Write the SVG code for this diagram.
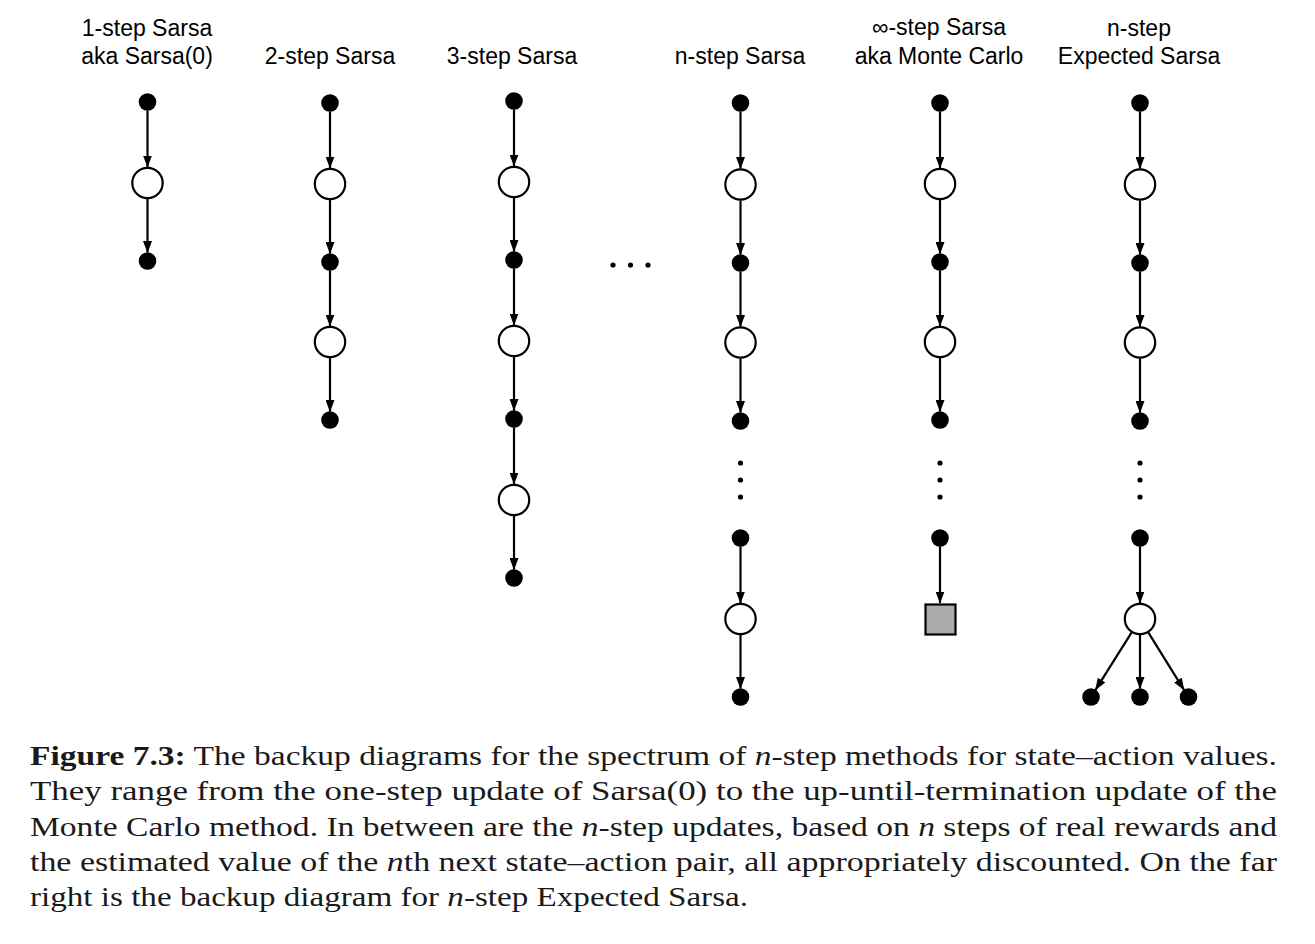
<svg xmlns="http://www.w3.org/2000/svg" width="1315" height="944" viewBox="0 0 1315 944">
<style>
.title{font-family:"Liberation Sans",Arial,Helvetica,sans-serif;font-size:23px;fill:#000;text-anchor:middle}
.cap{font-family:"Liberation Serif","Times New Roman",serif;font-size:27px;fill:#1a1a1a}
.b{font-weight:bold}
.i{font-style:italic}
.act{fill:#000}
.st{fill:#fff;stroke:#000;stroke-width:2.2}
.term{fill:#aaaaaa;stroke:#000;stroke-width:2.2}
.dot{fill:#000}
.conn line{stroke:#000;stroke-width:2.2;marker-end:url(#ah)}
</style>
<defs>
<marker id="ah" markerUnits="userSpaceOnUse" viewBox="0 0 12 9" markerWidth="12" markerHeight="9" refX="11.5" refY="4.5" orient="auto">
<path d="M0,0 L12,4.5 L0,9 z" fill="#000"/>
</marker>
</defs>
<rect width="1315" height="944" fill="#fff"/>

<g id="titles">
<text class="title" x="147" y="36">1-step Sarsa</text>
<text class="title" x="147" y="64">aka Sarsa(0)</text>
<text class="title" x="330" y="64">2-step Sarsa</text>
<text class="title" x="512" y="64">3-step Sarsa</text>
<text class="title" x="740" y="64">n-step Sarsa</text>
<text class="title" x="939" y="35">∞-step Sarsa</text>
<text class="title" x="939" y="64">aka Monte Carlo</text>
<text class="title" x="1139" y="36">n-step</text>
<text class="title" x="1139" y="64">Expected Sarsa</text>
</g>

<g id="connectors" class="conn">
<line x1="147.5" y1="110.5" x2="147.5" y2="167"/>
<line x1="147.5" y1="199" x2="147.5" y2="252.5"/>

<line x1="330" y1="111.5" x2="330" y2="168"/>
<line x1="330" y1="200" x2="330" y2="253.5"/>
<line x1="330" y1="270.5" x2="330" y2="326"/>
<line x1="330" y1="358" x2="330" y2="411.5"/>

<line x1="514" y1="109.5" x2="514" y2="166"/>
<line x1="514" y1="198" x2="514" y2="251.5"/>
<line x1="514" y1="268.5" x2="514" y2="325"/>
<line x1="514" y1="357" x2="514" y2="410.5"/>
<line x1="514" y1="427.5" x2="514" y2="484"/>
<line x1="514" y1="516" x2="514" y2="569.5"/>

<line x1="740.5" y1="111.5" x2="740.5" y2="168.5"/>
<line x1="740.5" y1="200.5" x2="740.5" y2="254.5"/>
<line x1="740.5" y1="271.5" x2="740.5" y2="326.5"/>
<line x1="740.5" y1="358.5" x2="740.5" y2="412.5"/>
<line x1="740.5" y1="546.5" x2="740.5" y2="603"/>
<line x1="740.5" y1="635" x2="740.5" y2="688.5"/>

<line x1="940" y1="111.5" x2="940" y2="168"/>
<line x1="940" y1="200" x2="940" y2="253.5"/>
<line x1="940" y1="270.5" x2="940" y2="326"/>
<line x1="940" y1="358" x2="940" y2="411.5"/>
<line x1="940" y1="546.5" x2="940" y2="603"/>

<line x1="1140" y1="111.5" x2="1140" y2="168.5"/>
<line x1="1140" y1="200.5" x2="1140" y2="254.5"/>
<line x1="1140" y1="271.5" x2="1140" y2="326.5"/>
<line x1="1140" y1="358.5" x2="1140" y2="412.5"/>
<line x1="1140" y1="546.5" x2="1140" y2="603"/>
<line x1="1131.5" y1="632.6" x2="1095.5" y2="689.8"/>
<line x1="1140" y1="635" x2="1140" y2="688.5"/>
<line x1="1148.4" y1="632.6" x2="1184" y2="689.8"/>
</g>

<g id="col-1step">
<g id="c1-a0"><circle class="act" cx="147.5" cy="102" r="8.8"/></g>
<g id="c1-s1"><circle class="st" cx="147.5" cy="183" r="15.2"/></g>
<g id="c1-a1"><circle class="act" cx="147.5" cy="261" r="8.8"/></g>
</g>

<g id="col-2step">
<g id="c2-a0"><circle class="act" cx="330" cy="103" r="8.8"/></g>
<g id="c2-s1"><circle class="st" cx="330" cy="184" r="15.2"/></g>
<g id="c2-a1"><circle class="act" cx="330" cy="262" r="8.8"/></g>
<g id="c2-s2"><circle class="st" cx="330" cy="342" r="15.2"/></g>
<g id="c2-a2"><circle class="act" cx="330" cy="420" r="8.8"/></g>
</g>

<g id="col-3step">
<g id="c3-a0"><circle class="act" cx="514" cy="101" r="8.8"/></g>
<g id="c3-s1"><circle class="st" cx="514" cy="182" r="15.2"/></g>
<g id="c3-a1"><circle class="act" cx="514" cy="260" r="8.8"/></g>
<g id="c3-s2"><circle class="st" cx="514" cy="341" r="15.2"/></g>
<g id="c3-a2"><circle class="act" cx="514" cy="419" r="8.8"/></g>
<g id="c3-s3"><circle class="st" cx="514" cy="500" r="15.2"/></g>
<g id="c3-a3"><circle class="act" cx="514" cy="578" r="8.8"/></g>
</g>

<g id="hdots">
<circle class="dot" cx="613" cy="265" r="2.6"/>
<circle class="dot" cx="630.5" cy="265" r="2.6"/>
<circle class="dot" cx="648" cy="265" r="2.6"/>
</g>

<g id="col-nstep">
<g id="cn-a0"><circle class="act" cx="740.5" cy="103" r="8.8"/></g>
<g id="cn-s1"><circle class="st" cx="740.5" cy="184.5" r="15.2"/></g>
<g id="cn-a1"><circle class="act" cx="740.5" cy="263" r="8.8"/></g>
<g id="cn-s2"><circle class="st" cx="740.5" cy="342.5" r="15.2"/></g>
<g id="cn-a2"><circle class="act" cx="740.5" cy="421" r="8.8"/></g>
<g id="cn-vdots">
<circle class="dot" cx="740.5" cy="463" r="2.6"/>
<circle class="dot" cx="740.5" cy="480" r="2.6"/>
<circle class="dot" cx="740.5" cy="497" r="2.6"/>
</g>
<g id="cn-an"><circle class="act" cx="740.5" cy="538" r="8.8"/></g>
<g id="cn-sn"><circle class="st" cx="740.5" cy="619" r="15.2"/></g>
<g id="cn-an1"><circle class="act" cx="740.5" cy="697" r="8.8"/></g>
</g>

<g id="col-infstep">
<g id="ci-a0"><circle class="act" cx="940" cy="103" r="8.8"/></g>
<g id="ci-s1"><circle class="st" cx="940" cy="184" r="15.2"/></g>
<g id="ci-a1"><circle class="act" cx="940" cy="262" r="8.8"/></g>
<g id="ci-s2"><circle class="st" cx="940" cy="342" r="15.2"/></g>
<g id="ci-a2"><circle class="act" cx="940" cy="420" r="8.8"/></g>
<g id="ci-vdots">
<circle class="dot" cx="940" cy="463" r="2.6"/>
<circle class="dot" cx="940" cy="480" r="2.6"/>
<circle class="dot" cx="940" cy="497" r="2.6"/>
</g>
<g id="ci-an"><circle class="act" cx="940" cy="538" r="8.8"/></g>
<g id="ci-term"><rect class="term" x="925.5" y="604.5" width="30" height="30"/></g>
</g>

<g id="col-expected">
<g id="ce-a0"><circle class="act" cx="1140" cy="103" r="8.8"/></g>
<g id="ce-s1"><circle class="st" cx="1140" cy="184.5" r="15.2"/></g>
<g id="ce-a1"><circle class="act" cx="1140" cy="263" r="8.8"/></g>
<g id="ce-s2"><circle class="st" cx="1140" cy="342.5" r="15.2"/></g>
<g id="ce-a2"><circle class="act" cx="1140" cy="421" r="8.8"/></g>
<g id="ce-vdots">
<circle class="dot" cx="1140" cy="463" r="2.6"/>
<circle class="dot" cx="1140" cy="480" r="2.6"/>
<circle class="dot" cx="1140" cy="497" r="2.6"/>
</g>
<g id="ce-an"><circle class="act" cx="1140" cy="538" r="8.8"/></g>
<g id="ce-sn"><circle class="st" cx="1140" cy="619" r="15.2"/></g>
<g id="ce-b1"><circle class="act" cx="1091" cy="697" r="8.8"/></g>
<g id="ce-b2"><circle class="act" cx="1140" cy="697" r="8.8"/></g>
<g id="ce-b3"><circle class="act" cx="1188.5" cy="697" r="8.8"/></g>
</g>

<g id="caption">
<text class="cap" x="30" y="765" textLength="1247" lengthAdjust="spacingAndGlyphs"><tspan class="b">Figure 7.3:</tspan> The backup diagrams for the spectrum of <tspan class="i">n</tspan>-step methods for state–action values.</text>
<text class="cap" x="30" y="800" textLength="1247" lengthAdjust="spacingAndGlyphs">They range from the one-step update of Sarsa(0) to the up-until-termination update of the</text>
<text class="cap" x="30" y="835.5" textLength="1247" lengthAdjust="spacingAndGlyphs">Monte Carlo method. In between are the <tspan class="i">n</tspan>-step updates, based on <tspan class="i">n</tspan> steps of real rewards and</text>
<text class="cap" x="30" y="871" textLength="1247" lengthAdjust="spacingAndGlyphs">the estimated value of the <tspan class="i">n</tspan>th next state–action pair, all appropriately discounted. On the far</text>
<text class="cap" x="30" y="906" textLength="718" lengthAdjust="spacingAndGlyphs">right is the backup diagram for <tspan class="i">n</tspan>-step Expected Sarsa.</text>
</g>
</svg>
